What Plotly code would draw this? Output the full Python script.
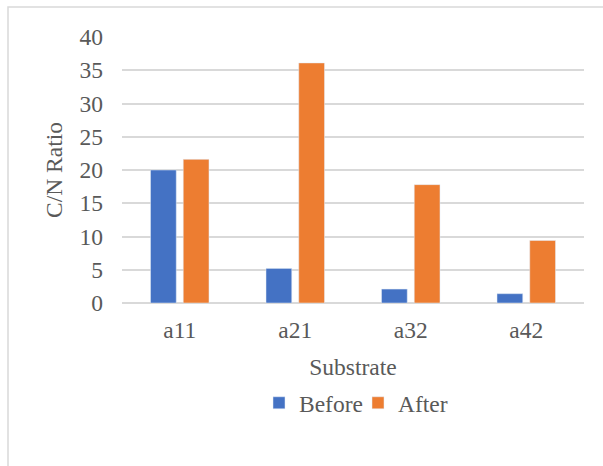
import plotly.graph_objects as go

# C/N ratio of each substrate before and after treatment
substrates = ["a11", "a21", "a32", "a42"]
before = [20.0, 5.2, 2.1, 1.4]
after = [21.6, 36.1, 17.8, 9.4]
y_ticks = [0, 5, 10, 15, 20, 25, 30, 35, 40]

FONT = "Liberation Serif, Times New Roman, serif"
TEXT = "#595959"
GRID = "#D9D9D9"

fig = go.Figure()
fig.add_trace(go.Bar(x=substrates, y=before, name="Before",
                     marker=dict(color="#4472C4")))
fig.add_trace(go.Bar(x=substrates, y=after, name="After",
                     marker=dict(color="#ED7D31")))

W, H = 603, 466
L, R, T, B = 122, 19, 37, 163
pw, ph = W - L - R, H - T - B

def px_x(p):
    return (p - L) / pw

def px_y(p):
    return (H - B - p) / ph

fig.update_layout(
    width=W, height=H,
    margin=dict(l=L, r=R, t=T, b=B, pad=0),
    paper_bgcolor="white", plot_bgcolor="white",
    font=dict(family=FONT, size=23.5, color=TEXT),
    barmode="group", bargap=0.433, bargroupgap=0.214,
    showlegend=True,
    legend=dict(orientation="h", x=px_x(259), xanchor="left",
                y=px_y(403), yanchor="middle",
                font=dict(family=FONT, size=23.5, color=TEXT),
                itemwidth=30, entrywidth=54, entrywidthmode="pixels",
                bgcolor="rgba(0,0,0,0)"),
    xaxis=dict(
        title=dict(text="Substrate", standoff=17,
                   font=dict(family=FONT, size=23.5, color=TEXT)),
        showline=False, showgrid=False, ticks="",
        tickfont=dict(family=FONT, size=23.5, color=TEXT),
        ticklabelstandoff=10,
    ),
    yaxis=dict(
        title=dict(text="C/N Ratio", standoff=10,
                   font=dict(family=FONT, size=23.5, color=TEXT)),
        range=[0, 40], tickvals=y_ticks,
        showgrid=True, gridcolor=GRID, gridwidth=1.5,
        zeroline=True, zerolinecolor=GRID, zerolinewidth=1.5,
        showline=False, ticks="",
        tickfont=dict(family=FONT, size=23.5, color=TEXT),
        ticklabelstandoff=18,
    ),
    shapes=[dict(type="rect", xref="paper", yref="paper",
                 x0=px_x(8), x1=px_x(620), y0=px_y(480), y1=px_y(7),
                 line=dict(color=GRID, width=1.5), fillcolor="rgba(0,0,0,0)",
                 layer="below")],
)

fig.write_html("out.html")
